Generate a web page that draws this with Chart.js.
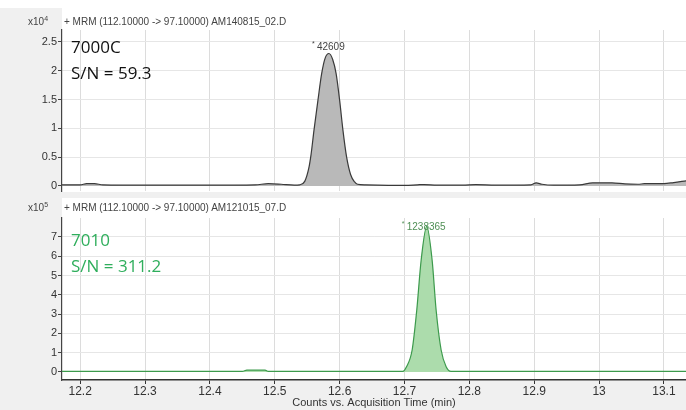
<!DOCTYPE html>
<html>
<head>
<meta charset="utf-8">
<script src="https://cdn.jsdelivr.net/npm/chart.js@4.4.1/dist/chart.umd.min.js"></script>
<style>
    body { margin: 0; width: 686px; height: 410px; background: #f0f0f0; position: relative; overflow: hidden; font-family: 'Liberation Sans', Arial, sans-serif; }
    .white { position: absolute; background: #fff; }
    .hdr { position: absolute; font-size: 10px; color: #444; line-height: 12px; white-space: nowrap; }
    .hdr sup { font-size: 7px; vertical-align: 4px; line-height: 0; }
    .note { position: absolute; font-family: 'Open Sans', sans-serif; font-size: 17px; line-height: 26px; white-space: nowrap; }
    canvas { position: absolute; left: 0; }
</style>
</head>
<body>
<div class="white" style="left:0;top:0;width:686px;height:8px"></div>
<div class="white" style="left:62px;top:8px;width:624px;height:184px"></div>
<div class="white" style="left:62px;top:198px;width:624px;height:182px"></div>

<canvas id="topChart" width="686" height="205" style="top:0"></canvas>
<canvas id="bottomChart" width="686" height="215" style="top:195px"></canvas>

<div class="hdr" style="left:28px;top:16px">x10<sup>4</sup></div>
<div class="hdr" style="left:64px;top:16px">+ MRM (112.10000 -&gt; 97.10000) AM140815_02.D</div>
<div class="hdr" style="left:28px;top:202px">x10<sup>5</sup></div>
<div class="hdr" style="left:64px;top:202px">+ MRM (112.10000 -&gt; 97.10000) AM121015_07.D</div>

<div class="note" style="left:71px;top:34px;color:#111">7000C<br>S/N = 59.3</div>
<div class="note" style="left:71px;top:227px;color:#2fae5c">7010<br>S/N = 311.2</div>

<script>
// x axis (minutes)
const xMin = 12.172;
const xMax = 13.134;
const xTicks = [12.2, 12.3, 12.4, 12.5, 12.6, 12.7, 12.8, 12.9, 13, 13.1];

// top trace, 7000C, counts x10^4
const topTicks = [0, 0.5, 1, 1.5, 2, 2.5];
const topTimes = [12.172, 12.2, 12.21, 12.222, 12.235, 12.3, 12.4, 12.47, 12.49, 12.51, 12.53,
    12.5385, 12.5462, 12.5523, 12.556, 12.5605, 12.5666, 12.5723, 12.5777, 12.5835, 12.5892,
    12.5946, 12.6, 12.6051, 12.6108, 12.6169, 12.6231, 12.6277,
    12.64, 12.7, 12.72, 12.73, 12.75, 12.79, 12.81, 12.84, 12.895, 12.903, 12.912, 12.93,
    12.97, 12.99, 13.02, 13.04, 13.06, 13.07, 13.1, 13.115, 13.134];
const topCounts = [0.02, 0.02, 0.04, 0.04, 0.02, 0.015, 0.015, 0.02, 0.04, 0.03, 0.015,
    0.02, 0.08, 0.3, 0.55, 0.97, 1.49, 1.95, 2.22, 2.30, 2.2,
    1.95, 1.49, 0.97, 0.5, 0.2, 0.07, 0.03,
    0.02, 0.01, 0.02, 0.025, 0.015, 0.015, 0.025, 0.015, 0.02, 0.055, 0.03, 0.015,
    0.02, 0.055, 0.055, 0.035, 0.03, 0.04, 0.04, 0.06, 0.09];
const topPeak = { time: 12.5835, counts: 2.30, label: '42609' };

// bottom trace, 7010, counts x10^5
const bottomTicks = [0, 1, 2, 3, 4, 5, 6, 7];
const bottomTimes = [12.172, 12.45, 12.457, 12.485, 12.49, 12.6974,
    12.7031, 12.7118, 12.7189, 12.7257, 12.7343, 12.7426, 12.7488, 12.7565, 12.7642,
    12.7718, 13.134];
const bottomCounts = [0.03, 0.03, 0.1, 0.1, 0.03, 0.03,
    0.27, 1.14, 3.2, 5.8, 7.55, 5.8, 3.2, 1.14, 0.27,
    0.03, 0.03];
const bottomPeak = { time: 12.7343, counts: 7.55, label: '1238365' };

const toPoints = (xs, ys) => xs.map((x, i) => ({ x: x, y: ys[i] }));
const fixTicks = (list) => (axis) => { axis.ticks = list.map(v => ({ value: v })); };

// peak annotation, drawn next to the apex point
const peakLabel = {
    id: 'peakLabel',
    afterDatasetsDraw(chart, args, opts) {
        const { ctx, scales } = chart;
        const px = scales.x.getPixelForValue(opts.time);
        const py = scales.y.getPixelForValue(opts.counts);
        ctx.save();
        ctx.fillStyle = opts.color;
        ctx.textBaseline = 'middle';
        ctx.font = "7px 'Liberation Sans', Arial, sans-serif";
        ctx.fillText('*', px + opts.dx - 5, py + opts.dy - 3);
        ctx.font = "10px 'Liberation Sans', Arial, sans-serif";
        ctx.fillText(opts.label, px + opts.dx, py + opts.dy);
        ctx.restore();
    }
};

function makeChart(id, cfg) {
    const ctx = document.getElementById(id).getContext('2d');
    return new Chart(ctx, {
        type: 'line',
        data: {
            datasets: [{
                data: toPoints(cfg.times, cfg.counts),
                borderColor: cfg.line,
                backgroundColor: cfg.fill,
                borderWidth: 1.2,
                pointRadius: 0,
                fill: 'origin',
                cubicInterpolationMode: 'monotone'
            }]
        },
        options: {
            responsive: false,
            animation: false,
            layout: { padding: { top: cfg.padTop, left: 0, right: 0, bottom: 0 } },
            plugins: {
                legend: { display: false },
                tooltip: { enabled: false },
                peakLabel: Object.assign({ color: cfg.labelColor }, cfg.peak)
            },
            scales: {
                x: {
                    type: 'linear',
                    min: xMin,
                    max: xMax,
                    afterBuildTicks: fixTicks(xTicks),
                    afterFit: (s) => { s.height = cfg.xHeight; },
                    ticks: {
                        display: cfg.showX,
                        color: '#333',
                        font: { size: 12, family: "'Liberation Sans', Arial, sans-serif" },
                        padding: 0,
                        maxRotation: 0,
                        callback: (v) => String(v)
                    },
                    grid: { color: '#dcdcdc', drawTicks: cfg.showX, tickLength: 4, tickColor: '#333' },
                    border: { display: cfg.showX, color: '#333', width: 1.5 },
                    title: {
                        display: cfg.showX,
                        text: 'Counts vs. Acquisition Time (min)',
                        color: '#333',
                        font: { size: 11, family: "'Liberation Sans', Arial, sans-serif" },
                        padding: 0
                    }
                },
                y: {
                    min: cfg.yMin,
                    max: cfg.yMax,
                    afterBuildTicks: fixTicks(cfg.yTicks),
                    afterFit: (s) => { s.width = 62; },
                    ticks: {
                        color: '#333',
                        font: { size: 11, family: "'Liberation Sans', Arial, sans-serif" },
                        padding: 1,
                        callback: (v) => String(v)
                    },
                    grid: { color: '#e6e6e6', tickLength: 4, tickColor: '#444' },
                    border: { color: '#444', width: 1.2 }
                }
            }
        },
        plugins: [peakLabel]
    });
}

makeChart('topChart', {
    times: topTimes, counts: topCounts, yTicks: topTicks,
    yMin: -0.087, yMax: 2.708, padTop: 30, xHeight: 14, showX: false,
    line: '#3a3a3a', fill: '#b9b9b9', labelColor: '#444',
    peak: { time: topPeak.time, counts: topPeak.counts, label: topPeak.label, dx: -12, dy: -6 }
});

makeChart('bottomChart', {
    times: bottomTimes, counts: bottomCounts, yTicks: bottomTicks,
    yMin: -0.415, yMax: 7.985, padTop: 23, xHeight: 30, showX: true,
    line: '#3c9a4c', fill: '#acdcac', labelColor: '#4f8f55',
    peak: { time: bottomPeak.time, counts: bottomPeak.counts, label: bottomPeak.label, dx: -20, dy: 1 }
});
</script>
</body>
</html>
